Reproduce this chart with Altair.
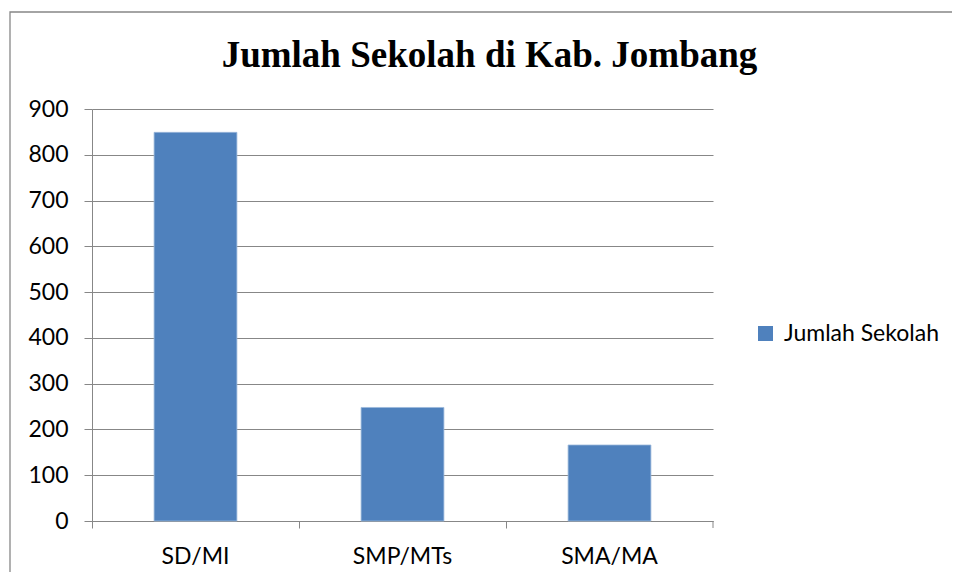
import altair as alt
import pandas as pd

categories = ["SD/MI", "SMP/MTs", "SMA/MA"]
values = [849, 248, 166]
series_name = "Jumlah Sekolah"
y_ticks = [0, 100, 200, 300, 400, 500, 600, 700, 800, 900]
title_text = "Jumlah Sekolah di Kab. Jombang"

df = pd.DataFrame({"Jenjang": categories, "Jumlah": values, "Seri": [series_name] * len(categories)})

GRAY = "#878787"
BLUE = "#4F81BD"
FONT = "Lato"
FS = 23
W, H = 621, 412

x_scale = alt.Scale(domain=categories, paddingInner=0, paddingOuter=0)

bars = alt.Chart(df).mark_bar(width=alt.RelativeBandSize(0.4), stroke="#9BB7DB", strokeWidth=0.8).encode(
    x=alt.X("Jenjang:N", sort=categories, scale=x_scale,
            axis=alt.Axis(title=None, orient="bottom", bandPosition=0, tickSize=7, tickColor=GRAY,
                          domainColor=GRAY, grid=False, labelAngle=0, labelFont=FONT,
                          labelFontSize=FS, labelColor="#000000", labelPadding=17)),
    y=alt.Y("Jumlah:Q", scale=alt.Scale(domain=[0, 900], nice=False, zero=True),
            axis=alt.Axis(title=None, values=y_ticks, tickSize=8, tickColor=GRAY, domainColor=GRAY,
                          gridColor=GRAY, grid=True, labelFont=FONT, labelFontSize=FS,
                          labelColor="#000000", labelPadding=16)),
    color=alt.Color("Seri:N", scale=alt.Scale(domain=[series_name], range=[BLUE]),
                    legend=alt.Legend(title=None, orient="none", legendX=662, legendY=213,
                                      symbolType="square", symbolSize=225, symbolStrokeWidth=0,
                                      labelFont=FONT, labelFontSize=FS, labelColor="#000000",
                                      labelOffset=7, padding=0)),
)

end_tick = alt.Chart(pd.DataFrame({"a": [0]})).mark_rule(color=GRAY).encode(
    x=alt.value(W), y=alt.value(H), y2=alt.value(H + 7)
)

frame = alt.Chart(pd.DataFrame({"a": [0]})).mark_rect(fill=None, stroke=GRAY, strokeWidth=1.3).encode(
    x=alt.value(-82), x2=alt.value(900), y=alt.value(-97), y2=alt.value(520)
)

title = alt.Chart(pd.DataFrame({"t": [title_text]})).mark_text(
    font="Liberation Serif", fontSize=37, fontWeight="bold", color="#000000",
    align="center", baseline="alphabetic"
).encode(text="t:N", x=alt.value(397.5), y=alt.value(-42.5))

chart = alt.layer(frame, bars, end_tick, title).properties(
    width=W, height=H,
    autosize=alt.AutoSizeParams(type="none"),
    padding={"left": 84, "top": 101, "right": 239, "bottom": 51},
).configure_view(stroke=None)

chart.save("out.html", embed_options={"renderer": "svg", "actions": False})
